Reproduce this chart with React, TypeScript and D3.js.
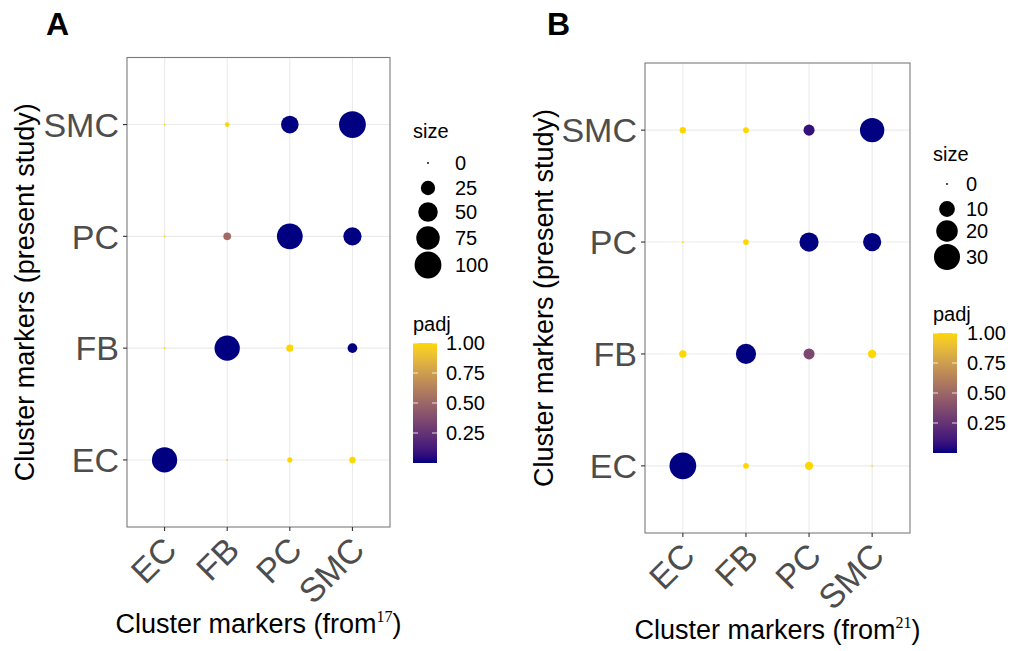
import React from 'react';
import * as d3 from 'd3';

// cluster categories, used for both axes
const categories = ['EC', 'FB', 'PC', 'SMC'];

// panel A: rows = present study (EC, FB, PC, SMC), columns = markers from ref 17
const sizeA = [
    [88, 0, 1.8, 3.4],
    [0, 88, 4.5, 10],
    [0, 5.6, 92, 43],
    [0, 1.4, 40, 100],
];
const padjA = [
    [0, 1, 1, 1],
    [1, 0, 1, 0],
    [1, 0.52, 0, 0],
    [1, 1, 0, 0],
];

// panel B: rows = present study, columns = markers from ref 21
const sizeB = [
    [32, 0.8, 2.2, 0],
    [1.6, 17.3, 4.4, 2.2],
    [0, 0.8, 15.5, 13.8],
    [1.1, 0.8, 4.4, 26],
];
const padjB = [
    [0, 1, 1, 1],
    [1, 0, 0.35, 1],
    [1, 1, 0, 0],
    [1, 1, 0.08, 0],
];

const sizeBreaksA = [0, 25, 50, 75, 100];
const sizeBreaksB = [0, 10, 20, 30];
const padjBreaks = [0.25, 0.5, 0.75, 1.0];

const font = '"Liberation Sans", Arial, Helvetica, sans-serif';

const color = d3
    .scaleLinear<string>()
    .domain([0, 1])
    .range(['#000080', '#FFD700'])
    .interpolate(d3.interpolateLab);

type PanelProps = {
    label: string;
    sizes: number[][];
    padj: number[][];
    sizeMax: number;
    sizeBreaks: number[];
    refNum: string;
    box: { left: number; right: number; top: number; bottom: number };
    titleX: number;
    yTitleX: number;
    xTitleY: number;
    legend: {
        x: number;
        sizeTitleY: number;
        keyX: number;
        keyYs: number[];
        labelX: number;
        padjTitleY: number;
        barTop: number;
        barLabelX: number;
    };
};

function Panel(props: PanelProps) {
    const { box, sizes, padj, legend } = props;
    const x = d3.scalePoint().domain(categories).range([box.left, box.right]).padding(0.6);
    const y = d3.scalePoint().domain(categories).range([box.bottom, box.top]).padding(0.6);
    const r = d3.scaleSqrt().domain([0, props.sizeMax]).range([0.9, 13.4]);

    const points: { cx: number; cy: number; v: number; p: number }[] = [];
    categories.forEach((row, i) => {
        categories.forEach((col, j) => {
            points.push({ cx: x(col)!, cy: y(row)!, v: sizes[i][j], p: padj[i][j] });
        });
    });

    const barH = 120;
    const barY = d3.scaleLinear().domain([0, 1]).range([legend.barTop + barH, legend.barTop]);
    const gradId = 'grad' + props.label;
    const cx = (box.left + box.right) / 2;
    const cy = (box.top + box.bottom) / 2;

    return (
        <g fontFamily={font}>
            <text x={props.titleX} y={35} fontSize={32} fontWeight="bold">{props.label}</text>

            <rect x={box.left} y={box.top} width={box.right - box.left} height={box.bottom - box.top} fill="white" />
            {categories.map((c) => (
                <g key={'g' + c}>
                    <line x1={x(c)} x2={x(c)} y1={box.top} y2={box.bottom} stroke="#EBEBEB" strokeWidth={1.1} />
                    <line x1={box.left} x2={box.right} y1={y(c)} y2={y(c)} stroke="#EBEBEB" strokeWidth={1.1} />
                </g>
            ))}
            {points.map((d, i) => (
                <circle key={i} cx={d.cx} cy={d.cy} r={r(d.v)} fill={color(d.p)} />
            ))}
            <rect x={box.left} y={box.top} width={box.right - box.left} height={box.bottom - box.top}
                fill="none" stroke="#7a7a7a" strokeWidth={1.1} />

            {/* y axis */}
            {categories.map((c) => (
                <g key={'y' + c}>
                    <line x1={box.left - 4} x2={box.left} y1={y(c)} y2={y(c)} stroke="#333" strokeWidth={1.1} />
                    <text x={box.left - 8} y={y(c)} dy="0.36em" textAnchor="end" fontSize={34} fill="#4D4D4D">{c}</text>
                </g>
            ))}
            {/* x axis */}
            {categories.map((c) => (
                <g key={'x' + c}>
                    <line x1={x(c)} x2={x(c)} y1={box.bottom} y2={box.bottom + 4} stroke="#333" strokeWidth={1.1} />
                    <text transform={`translate(${x(c)! + 14},${box.bottom + 25}) rotate(-45)`}
                        textAnchor="end" fontSize={34} fill="#4D4D4D">{c}</text>
                </g>
            ))}
            <text x={cx} y={props.xTitleY} textAnchor="middle" fontSize={27}>
                Cluster markers (from
                <tspan fontFamily='"Liberation Serif", "Times New Roman", serif' fontSize={16} dy={-11}>{props.refNum}</tspan>
                <tspan dy={11}>)</tspan>
            </text>
            <text transform={`translate(${props.yTitleX},${cy}) rotate(-90)`} textAnchor="middle" fontSize={27}>
                Cluster markers (present study)
            </text>

            {/* size legend */}
            <text x={legend.x} y={legend.sizeTitleY} fontSize={20}>size</text>
            {props.sizeBreaks.map((b, i) => (
                <g key={'s' + b}>
                    <circle cx={legend.keyX} cy={legend.keyYs[i]} r={r(b)} fill="black" />
                    <text x={legend.labelX} y={legend.keyYs[i]} dy="0.36em" fontSize={20}>{b}</text>
                </g>
            ))}

            {/* padj colorbar */}
            <text x={legend.x} y={legend.padjTitleY} fontSize={20}>padj</text>
            <defs>
                <linearGradient id={gradId} x1="0" y1="1" x2="0" y2="0">
                    {d3.range(0, 1.0001, 0.05).map((t) => (
                        <stop key={t} offset={t} stopColor={color(t)} />
                    ))}
                </linearGradient>
            </defs>
            <rect x={legend.x} y={legend.barTop} width={24} height={barH} fill={`url(#${gradId})`} />
            {padjBreaks.map((b) => (
                <g key={'p' + b}>
                    <line x1={legend.x} x2={legend.x + 5} y1={barY(b)} y2={barY(b)} stroke="white" strokeOpacity={0.8} />
                    <line x1={legend.x + 19} x2={legend.x + 24} y1={barY(b)} y2={barY(b)} stroke="white" strokeOpacity={0.8} />
                    <text x={legend.barLabelX} y={barY(b)} dy="0.36em" fontSize={20}>{b.toFixed(2)}</text>
                </g>
            ))}
        </g>
    );
}

export default function App() {
    return (
        <svg width={1013} height={651} style={{ position: 'absolute', left: 0, top: 0, background: 'white' }}>
            <rect width={1013} height={651} fill="white" />
            <Panel
                label="A"
                sizes={sizeA}
                padj={padjA}
                sizeMax={100}
                sizeBreaks={sizeBreaksA}
                refNum="17"
                box={{ left: 127, right: 390, top: 57.5, bottom: 527 }}
                titleX={46}
                yTitleX={34}
                xTitleY={633}
                legend={{
                    x: 413, sizeTitleY: 138, keyX: 428, keyYs: [163, 188, 212, 238, 265],
                    labelX: 455, padjTitleY: 331, barTop: 343, barLabelX: 446,
                }}
            />
            <Panel
                label="B"
                sizes={sizeB}
                padj={padjB}
                sizeMax={32}
                sizeBreaks={sizeBreaksB}
                refNum="21"
                box={{ left: 645, right: 910, top: 63, bottom: 533 }}
                titleX={547}
                yTitleX={553}
                xTitleY={639}
                legend={{
                    x: 933, sizeTitleY: 161, keyX: 947, keyYs: [184, 209, 231, 257],
                    labelX: 966, padjTitleY: 321, barTop: 333, barLabelX: 967,
                }}
            />
        </svg>
    );
}
